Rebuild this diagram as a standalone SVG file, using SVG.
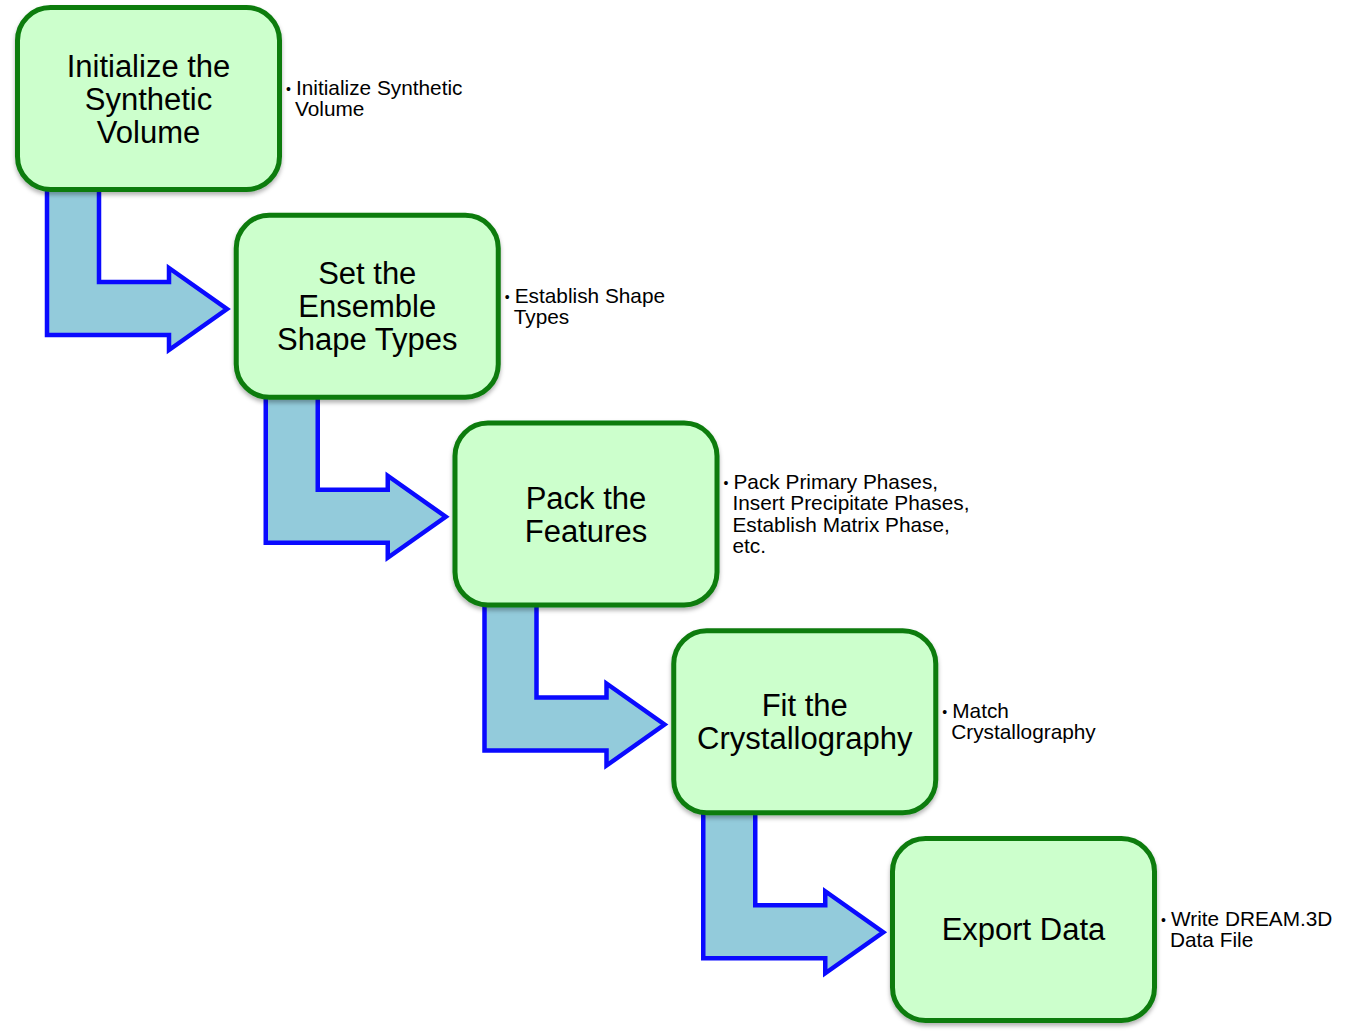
<svg xmlns="http://www.w3.org/2000/svg" width="1364" height="1034" viewBox="0 0 1364 1034">
<defs>
<filter id="sh" x="-10%" y="-10%" width="120%" height="125%">
<feDropShadow dx="0" dy="3" stdDeviation="2" flood-color="#000" flood-opacity="0.3"/>
</filter>
<path id="arr" d="M47,185 L99,185 L99,282 L169,282 L169,268 L227,309 L169,350 L169,335 L47,335 Z"/>
</defs>
<style>
.box{fill:#ccffcc;stroke:#0b7c0f;stroke-width:5;filter:url(#sh)}
.arrow{fill:#93cbdb;stroke:#0a0aff;stroke-width:4.5;stroke-linejoin:miter}
.t{font-family:"Liberation Sans",Arial,sans-serif;font-size:31px;fill:#000;text-anchor:middle}
.b{font-family:"Liberation Sans",Arial,sans-serif;font-size:20.8px;fill:#000}
.d{font-family:"Liberation Sans",Arial,sans-serif;font-size:14px;fill:#000}
</style>
<rect width="1364" height="1034" fill="#fff"/>
<g id="connectors">
<use href="#arr" class="arrow"/>
<use href="#arr" class="arrow" transform="translate(218.75,207.75)"/>
<use href="#arr" class="arrow" transform="translate(437.5,415.5)"/>
<use href="#arr" class="arrow" transform="translate(656.25,623.25)"/>
</g>
<g id="node1">
<rect class="box" x="17.5" y="7.5" width="262" height="182" rx="33"/>
<text class="t" x="148.5" y="77">Initialize the</text>
<text class="t" x="148.5" y="110">Synthetic</text>
<text class="t" x="148.5" y="143">Volume</text>
<text class="d" x="286" y="94">•</text>
<text class="b" x="296" y="95">Initialize Synthetic</text>
<text class="b" x="295" y="116">Volume</text>
</g>
<g id="node2" transform="translate(218.75,207.75)">
<rect class="box" x="17.5" y="7.5" width="262" height="182" rx="33"/>
<text class="t" x="148.5" y="76">Set the</text>
<text class="t" x="148.5" y="109">Ensemble</text>
<text class="t" x="148.5" y="142">Shape Types</text>
<text class="d" x="286" y="94">•</text>
<text class="b" x="296" y="95">Establish Shape</text>
<text class="b" x="295" y="116">Types</text>
</g>
<g id="node3" transform="translate(437.5,415.5)">
<rect class="box" x="17.5" y="7.5" width="262" height="182" rx="33"/>
<text class="t" x="148.5" y="93">Pack the</text>
<text class="t" x="148.5" y="126">Features</text>
<text class="d" x="286" y="72">•</text>
<text class="b" x="296" y="73">Pack Primary Phases,</text>
<text class="b" x="295" y="94.5">Insert Precipitate Phases,</text>
<text class="b" x="295" y="116">Establish Matrix Phase,</text>
<text class="b" x="295" y="137.5">etc.</text>
</g>
<g id="node4" transform="translate(656.25,623.25)">
<rect class="box" x="17.5" y="7.5" width="262" height="182" rx="33"/>
<text class="t" x="148.5" y="93">Fit the</text>
<text class="t" x="148.5" y="126">Crystallography</text>
<text class="d" x="286" y="94">•</text>
<text class="b" x="296" y="95">Match</text>
<text class="b" x="295" y="116">Crystallography</text>
</g>
<g id="node5" transform="translate(875,831)">
<rect class="box" x="17.5" y="7.5" width="262" height="182" rx="33"/>
<text class="t" x="148.5" y="109">Export Data</text>
<text class="d" x="286" y="94">•</text>
<text class="b" x="296" y="95">Write DREAM.3D</text>
<text class="b" x="295" y="116">Data File</text>
</g>
</svg>
